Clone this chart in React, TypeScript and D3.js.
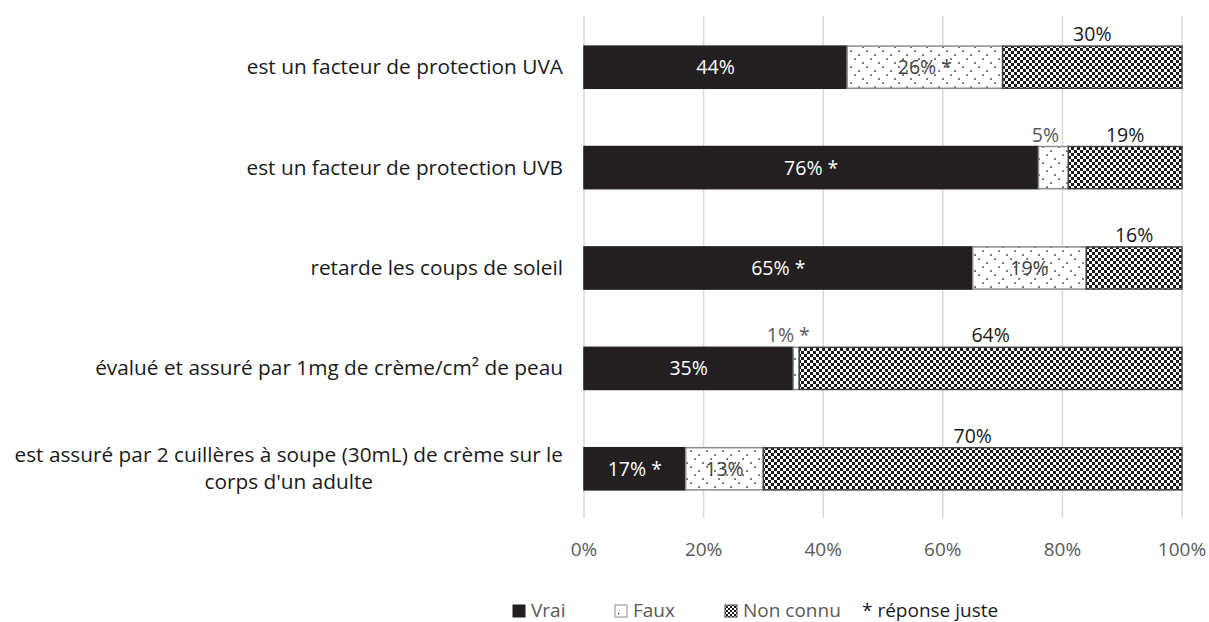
import { useEffect, useRef } from 'react';
import * as d3 from 'd3';

const categories = [
  'est un facteur de protection UVA',
  'est un facteur de protection UVB',
  'retarde les coups de soleil',
  'évalué et assuré par 1mg de crème/cm² de peau',
  "est assuré par 2 cuillères à soupe (30mL) de crème sur le\ncorps d'un adulte",
];
const vrai = [44, 76, 65, 35, 17];
const faux = [26, 5, 19, 1, 13];
const nonConnu = [30, 19, 16, 64, 70];
// which answer is the correct one for each statement
const correct = ['faux', 'vrai', 'vrai', 'faux', 'vrai'];
const ticks = [0, 20, 40, 60, 80, 100];
const seriesNames = ['Vrai', 'Faux', 'Non connu'];

const FONT = "'Open Sans', sans-serif";

export default function App() {
  const ref = useRef<SVGSVGElement>(null);

  useEffect(() => {
    if (!ref.current) return;
    const svg = d3.select(ref.current);
    svg.selectAll('*').remove();

    const x = d3.scaleLinear().domain([0, 100]).range([584, 1182]);
    const y = d3.scaleBand<number>()
      .domain(d3.range(categories.length))
      .range([17, 519])
      .paddingInner(0.58)
      .paddingOuter(0.29);

    // patterns
    const defs = svg.append('defs');
    const dots = defs.append('pattern')
      .attr('id', 'dots').attr('patternUnits', 'userSpaceOnUse')
      .attr('width', 16).attr('height', 16);
    dots.append('rect').attr('width', 16).attr('height', 16).attr('fill', '#fff');
    [[3, 3], [11, 7], [7, 11], [15, 15]].forEach(([cx, cy]) => {
      dots.append('rect').attr('x', cx - 0.7).attr('y', cy - 0.7)
        .attr('width', 1.5).attr('height', 1.5).attr('fill', '#222');
    });
    const checks = defs.append('pattern')
      .attr('id', 'checks').attr('patternUnits', 'userSpaceOnUse')
      .attr('width', 6).attr('height', 6);
    checks.append('rect').attr('width', 6).attr('height', 6).attr('fill', '#fff');
    checks.append('rect').attr('width', 3).attr('height', 3).attr('fill', '#1a1a1a');
    checks.append('rect').attr('x', 3).attr('y', 3).attr('width', 3).attr('height', 3).attr('fill', '#1a1a1a');
    const checksSmall = defs.append('pattern')
      .attr('id', 'checksSmall').attr('patternUnits', 'userSpaceOnUse')
      .attr('width', 4).attr('height', 4);
    checksSmall.append('rect').attr('width', 4).attr('height', 4).attr('fill', '#fff');
    checksSmall.append('rect').attr('width', 2).attr('height', 2).attr('fill', '#1a1a1a');
    checksSmall.append('rect').attr('x', 2).attr('y', 2).attr('width', 2).attr('height', 2).attr('fill', '#1a1a1a');

    // gridlines
    svg.append('g').selectAll('line')
      .data(ticks).enter().append('line')
      .attr('x1', d => x(d)).attr('x2', d => x(d))
      .attr('y1', 16).attr('y2', 518)
      .attr('stroke', '#d9d9d9').attr('stroke-width', 1.5);

    // tick labels
    svg.append('g').selectAll('text')
      .data(ticks).enter().append('text')
      .attr('x', d => x(d)).attr('y', 556)
      .attr('text-anchor', 'middle')
      .attr('font-family', FONT).attr('font-size', 19)
      .attr('fill', '#595959')
      .text(d => `${d}%`);

    // category labels
    categories.forEach((c, i) => {
      const lines = c.split('\n');
      const cy = (y(i) as number) + y.bandwidth() / 2;
      const lh = 27;
      const g = svg.append('g');
      const texts = lines.map((l, j) => g.append('text')
        .attr('y', cy - ((lines.length - 1) * lh) / 2 + j * lh + 7)
        .attr('font-family', FONT).attr('font-size', 20.8)
        .attr('fill', '#1a1a1a')
        .text(l));
      const widths = texts.map(t => (t.node() as SVGTextElement).getComputedTextLength());
      const maxW = d3.max(widths) || 0;
      const center = 563 - maxW / 2;
      texts.forEach(t => t.attr('x', center).attr('text-anchor', 'middle'));
    });

    // bars
    const segs = [vrai, faux, nonConnu];
    const fills = ['#231f20', 'url(#dots)', 'url(#checks)'];
    const strokes = ['#231f20', '#8c8c8c', '#404040'];
    categories.forEach((_, i) => {
      let acc = 0;
      const top = y(i) as number;
      const h = y.bandwidth();
      segs.forEach((s, k) => {
        const v = s[i];
        const x0 = x(acc);
        const x1 = x(acc + v);
        svg.append('rect')
          .attr('x', x0).attr('y', top)
          .attr('width', x1 - x0).attr('height', h)
          .attr('fill', fills[k])
          .attr('stroke', strokes[k]).attr('stroke-width', 1.5);
        const star = (k === 0 && correct[i] === 'vrai') || (k === 1 && correct[i] === 'faux') ? ' *' : '';
        const label = `${v}%${star}`;
        const mid = (x0 + x1) / 2;
        if (k === 0) {
          svg.append('text').attr('x', mid).attr('y', top + h / 2 + 7)
            .attr('text-anchor', 'middle').attr('font-family', FONT).attr('font-size', 19.5)
            .attr('fill', '#fff').text(label);
        } else if (k === 1 && v >= 10) {
          svg.append('text').attr('x', mid).attr('y', top + h / 2 + 7)
            .attr('text-anchor', 'middle').attr('font-family', FONT).attr('font-size', 19.5)
            .attr('fill', '#404040').text(label);
        } else {
          svg.append('text').attr('x', k === 1 ? mid - 8 : mid).attr('y', top - 5)
            .attr('text-anchor', 'middle').attr('font-family', FONT).attr('font-size', 19.5)
            .attr('fill', k === 1 ? '#595959' : '#1a1a1a').text(label);
        }
        acc += v;
      });
    });

    // legend
    const legend = svg.append('g');
    const lx = [513, 615, 725];
    const lfills = ['#231f20', '#fff', 'url(#checksSmall)'];
    seriesNames.forEach((n, k) => {
      legend.append('rect').attr('x', lx[k]).attr('y', 605)
        .attr('width', 12).attr('height', 12)
        .attr('fill', lfills[k])
        .attr('stroke', strokes[k]).attr('stroke-width', 1);
      if (k === 1) {
        legend.append('rect').attr('x', lx[k] + 3).attr('y', 613).attr('width', 1.3).attr('height', 1.3).attr('fill', '#222');
      }
      legend.append('text').attr('x', lx[k] + 18).attr('y', 617)
        .attr('font-family', FONT).attr('font-size', 19)
        .attr('fill', '#595959').text(n);
    });
    legend.append('text').attr('x', 862).attr('y', 617)
      .attr('font-family', FONT).attr('font-size', 19)
      .attr('fill', '#1a1a1a').text('* réponse juste');
  }, []);

  return (
    <svg ref={ref} width={1209} height={622}
      style={{ position: 'absolute', left: 0, top: 0, background: '#fff' }} />
  );
}
